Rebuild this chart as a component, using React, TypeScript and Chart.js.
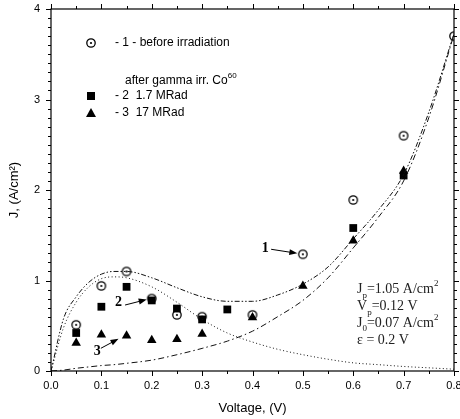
import { useEffect, useRef } from 'react';
import { Chart, registerables } from 'chart.js';

Chart.register(...registerables);

const SANS = '"Liberation Sans", Arial, sans-serif';
const SERIF = '"Liberation Serif", "Times New Roman", serif';

// ---- measured points ----
const before_V = [0.05, 0.1, 0.15, 0.2, 0.25, 0.3, 0.4, 0.5, 0.6, 0.7, 0.8];
const before_J = [0.51, 0.94, 1.1, 0.8, 0.62, 0.6, 0.62, 1.29, 1.89, 2.6, 3.7];

const mrad17_V = [0.05, 0.1, 0.15, 0.2, 0.25, 0.3, 0.35, 0.6, 0.7];
const mrad17_J = [0.42, 0.71, 0.93, 0.78, 0.69, 0.57, 0.68, 1.58, 2.16];

const mrad170_V = [0.05, 0.1, 0.15, 0.2, 0.25, 0.3, 0.4, 0.5, 0.6, 0.7];
const mrad170_J = [0.31, 0.4, 0.39, 0.34, 0.35, 0.41, 0.59, 0.94, 1.44, 2.21];

// ---- model curves ----
const curve_V = [0, 0.025, 0.05, 0.075, 0.1, 0.125, 0.15, 0.2, 0.25, 0.3, 0.35, 0.4, 0.45, 0.5, 0.55, 0.6, 0.65, 0.7, 0.75, 0.8];
const tunnel_J = [0, 0.48, 0.76, 0.93, 1.02, 1.04, 1.03, 0.93, 0.76, 0.57, 0.42, 0.32, 0.24, 0.18, 0.13, 0.09, 0.07, 0.05, 0.035, 0.02];
const excess_J = [0, 0.01, 0.03, 0.045, 0.06, 0.07, 0.085, 0.12, 0.18, 0.25, 0.33, 0.44, 0.6, 0.78, 1.03, 1.36, 1.7, 2.1, 2.8, 3.72];
const total_J = [0, 0.58, 0.82, 0.98, 1.07, 1.1, 1.1, 1.03, 0.92, 0.82, 0.77, 0.77, 0.84, 0.96, 1.15, 1.46, 1.78, 2.17, 2.86, 3.73];

// ---- axes ----
const X_MIN = 0, X_MAX = 0.8, X_STEP = 0.1, X_MINOR = 0.05;
const Y_MIN = 0, Y_MAX = 4, Y_STEP = 1, Y_MINOR = 0.1;

const pts = (xs: number[], ys: number[]) => xs.map((v, i) => ({ x: v, y: ys[i] }));

function makeCircleDot(): HTMLCanvasElement {
  const c = document.createElement('canvas');
  c.width = 12; c.height = 12;
  const g = c.getContext('2d')!;
  g.strokeStyle = '#000';
  g.lineWidth = 1.3;
  g.beginPath(); g.arc(6, 6, 4.2, 0, Math.PI * 2); g.stroke();
  g.fillStyle = '#000';
  g.beginPath(); g.arc(6, 6, 1.1, 0, Math.PI * 2); g.fill();
  return c;
}

type Seg = { t: string; size: number; dy: number; bold?: boolean };
function richText(ctx: CanvasRenderingContext2D, x: number, y: number, segs: Seg[], family: string) {
  let cx = x;
  for (const s of segs) {
    ctx.font = `${s.bold ? 'bold ' : ''}${s.size}px ${family}`;
    ctx.fillText(s.t, cx, y + s.dy);
    cx += ctx.measureText(s.t).width;
  }
}

function arrow(ctx: CanvasRenderingContext2D, x1: number, y1: number, x2: number, y2: number) {
  const ang = Math.atan2(y2 - y1, x2 - x1);
  const hl = 8, hw = 3;
  ctx.beginPath(); ctx.moveTo(x1, y1); ctx.lineTo(x2 - Math.cos(ang) * hl * 0.8, y2 - Math.sin(ang) * hl * 0.8); ctx.stroke();
  ctx.beginPath();
  ctx.moveTo(x2, y2);
  ctx.lineTo(x2 - Math.cos(ang) * hl - Math.sin(ang) * hw, y2 - Math.sin(ang) * hl + Math.cos(ang) * hw);
  ctx.lineTo(x2 - Math.cos(ang) * hl + Math.sin(ang) * hw, y2 - Math.sin(ang) * hl - Math.cos(ang) * hw);
  ctx.closePath(); ctx.fill();
}

let circleDot: HTMLCanvasElement;

const decorPlugin = {
  id: 'decor',
  afterDraw(chart: any) {
    const { ctx, chartArea: a, scales } = chart;
    const x = scales.x, y = scales.y;
    ctx.save();
    ctx.strokeStyle = '#000';
    ctx.fillStyle = '#000';
    ctx.lineWidth = 1.2;
    ctx.strokeRect(a.left, a.top, a.right - a.left, a.bottom - a.top);
    ctx.lineWidth = 1;
    const ln = (x1: number, y1: number, x2: number, y2: number) => { ctx.beginPath(); ctx.moveTo(x1, y1); ctx.lineTo(x2, y2); ctx.stroke(); };
    const nx = Math.round((X_MAX - X_MIN) / X_MINOR);
    for (let i = 0; i <= nx; i++) {
      const v = X_MIN + i * X_MINOR;
      const px = Math.round(x.getPixelForValue(v)) + 0.5;
      const len = i % Math.round(X_STEP / X_MINOR) === 0 ? 5 : 3;
      ln(px, a.bottom, px, a.bottom + len);
      ln(px, a.top, px, a.top - len);
    }
    const ny = Math.round((Y_MAX - Y_MIN) / Y_MINOR);
    for (let i = 0; i <= ny; i++) {
      const v = Y_MIN + i * Y_MINOR;
      const py = Math.round(y.getPixelForValue(v)) + 0.5;
      const len = i % Math.round(Y_STEP / Y_MINOR) === 0 ? 5 : 3;
      ln(a.left - len, py, a.left, py);
      ln(a.right, py, a.right + len, py);
    }

    // legend
    ctx.fillStyle = '#000';
    ctx.textBaseline = 'middle';
    const lx = a.left + 40, tx = a.left + 64;
    ctx.drawImage(circleDot, Math.round(lx - 6), Math.round(a.top + 34 - 6));
    ctx.font = `12px ${SANS}`;
    ctx.fillText('- 1 - before irradiation', tx, a.top + 34);
    richText(ctx, tx + 10, a.top + 72, [
      { t: 'after gamma irr. Co', size: 12, dy: 0 },
      { t: '60', size: 8, dy: -5 },
    ], SANS);
    ctx.fillRect(lx - 4, a.top + 87 - 4, 8, 8);
    ctx.font = `12px ${SANS}`;
    ctx.fillText('- 2  1.7 MRad', tx, a.top + 87);
    ctx.beginPath();
    ctx.moveTo(lx, a.top + 104 - 5);
    ctx.lineTo(lx + 5, a.top + 104 + 4);
    ctx.lineTo(lx - 5, a.top + 104 + 4);
    ctx.closePath(); ctx.fill();
    ctx.fillText('- 3  17 MRad', tx, a.top + 104);

    // numbered arrows
    ctx.font = `bold 14px ${SERIF}`;
    ctx.textAlign = 'center';
    const P = (v: number, j: number) => [x.getPixelForValue(v), y.getPixelForValue(j)];
    const labels: [string, number, number, number, number, number, number][] = [
      ['1', 0.4255, 1.36, 0.437, 1.345, 0.489, 1.3],
      ['2', 0.134, 0.76, 0.147, 0.729, 0.19, 0.79],
      ['3', 0.092, 0.22, 0.099, 0.251, 0.134, 0.355],
    ];
    for (const [t, lv, lj, v1, j1, v2, j2] of labels) {
      const [px, py] = P(lv, lj);
      ctx.fillText(t, px, py);
      const [ax, ay] = P(v1, j1);
      const [bx, by] = P(v2, j2);
      arrow(ctx, ax, ay, bx, by);
    }

    // parameter text
    ctx.textAlign = 'left';
    ctx.fillStyle = '#222';
    const [bx0, by0] = P(0.6075, 0.906);
    richText(ctx, bx0, by0, [
      { t: 'J', size: 14, dy: 0 }, { t: 'p', size: 9, dy: 7 },
      { t: '=1.05 A/cm', size: 14, dy: 0 }, { t: '2', size: 9, dy: -5 },
    ], SERIF);
    richText(ctx, bx0, by0 + 17, [
      { t: 'V', size: 14, dy: 0 }, { t: 'p', size: 9, dy: 7 },
      { t: '=0.12 V', size: 14, dy: 0 },
    ], SERIF);
    richText(ctx, bx0, by0 + 34, [
      { t: 'J', size: 14, dy: 0 }, { t: '0', size: 9, dy: 6 },
      { t: '=0.07 A/cm', size: 14, dy: 0 }, { t: '2', size: 9, dy: -5 },
    ], SERIF);
    richText(ctx, bx0, by0 + 51, [{ t: 'ε = 0.2 V', size: 14, dy: 0 }], SERIF);
    ctx.restore();
  },
};

export default function App() {
  const ref = useRef<HTMLCanvasElement>(null);
  useEffect(() => {
    if (!ref.current) return;
    circleDot = makeCircleDot();
    const lineDs = (label: string, ys: number[], dash: number[]) => ({
      type: 'line' as const,
      label,
      data: pts(curve_V, ys),
      borderColor: '#111',
      borderWidth: 1,
      borderDash: dash,
      pointRadius: 0,
      fill: false,
      cubicInterpolationMode: 'monotone' as const,
    });
    const chart = new Chart(ref.current, {
      type: 'scatter',
      data: {
        datasets: [
          lineDs('tunnel', tunnel_J, [1, 2.5]),
          lineDs('excess', excess_J, [6, 3, 1.5, 3]),
          lineDs('total', total_J, [5, 2, 1.5, 2, 1.5, 2]),
          {
            label: 'before irradiation',
            data: pts(before_V, before_J),
            pointStyle: circleDot,
            pointRadius: 5,
          } as any,
          {
            label: '1.7 MRad',
            data: pts(mrad17_V, mrad17_J),
            pointStyle: 'rect',
            pointRadius: 5.5,
            backgroundColor: '#000',
            borderColor: '#000',
            borderWidth: 0,
          },
          {
            label: '17 MRad',
            data: pts(mrad170_V, mrad170_J),
            pointStyle: 'triangle',
            pointRadius: 5.5,
            backgroundColor: '#000',
            borderColor: '#000',
            borderWidth: 0,
          },
        ],
      },
      options: {
        responsive: false,
        animation: false,
        events: [],
        layout: { padding: { top: 9, right: 3, left: 0, bottom: 0 } },
        plugins: { legend: { display: false }, tooltip: { enabled: false } },
        scales: {
          x: {
            type: 'linear',
            min: X_MIN,
            max: X_MAX,
            grid: { display: false, drawTicks: false },
            border: { display: false },
            ticks: {
              stepSize: X_STEP,
              padding: 8,
              color: '#000',
              font: { family: SANS, size: 11 },
              callback: (v: any) => Number(v).toFixed(1),
            },
            title: {
              display: true,
              text: 'Voltage, (V)',
              color: '#000',
              font: { family: SANS, size: 13 },
              padding: { top: 0, bottom: 3 },
            },
            afterFit: (s: any) => { s.height = 48; s.paddingLeft = 0; s.paddingRight = 0; },
          },
          y: {
            type: 'linear',
            min: Y_MIN,
            max: Y_MAX,
            grid: { display: false, drawTicks: false },
            border: { display: false },
            ticks: {
              stepSize: Y_STEP,
              padding: 11,
              color: '#000',
              font: { family: SANS, size: 11 },
            },
            title: {
              display: true,
              text: 'J, (A/cm²)',
              color: '#000',
              font: { family: SANS, size: 13 },
              padding: { top: 7, bottom: 0 },
            },
            afterFit: (s: any) => { s.width = 51; s.paddingTop = 0; s.paddingBottom = 0; },
          },
        },
      },
      plugins: [decorPlugin],
    });
    return () => chart.destroy();
  }, []);
  return (
    <div style={{ position: 'absolute', left: 0, top: 0, width: 460, height: 419, background: '#fff' }}>
      <canvas ref={ref} width={460} height={419} />
    </div>
  );
}
